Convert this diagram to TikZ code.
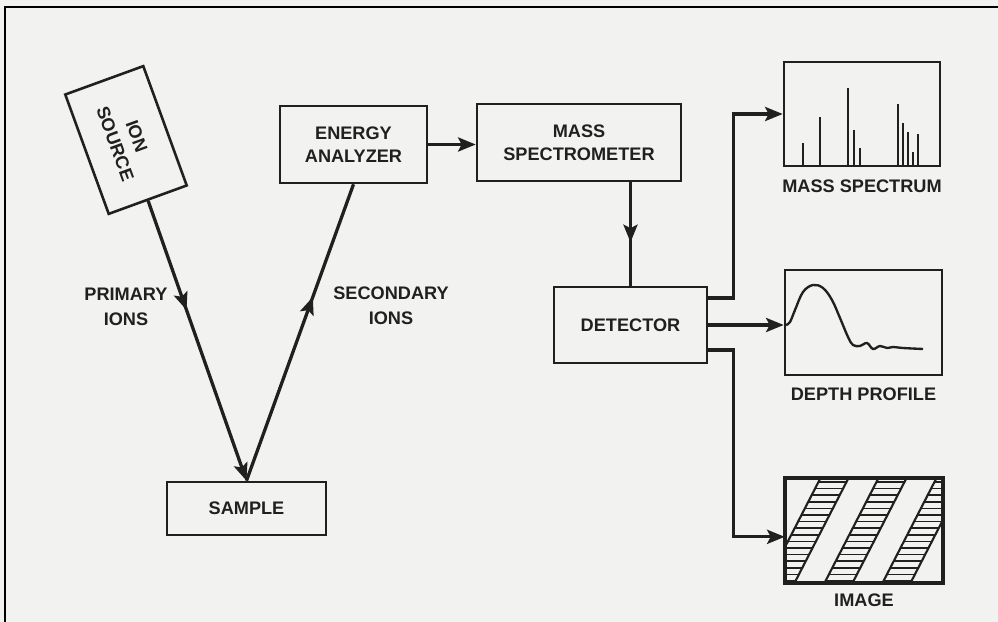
\documentclass[tikz,border=0pt]{standalone}
\usepackage{fontspec}
\setmainfont{Liberation Sans}
\usepackage{tikz}
\usetikzlibrary{arrows.meta, positioning, calc, decorations.markings}
\definecolor{ink1}{RGB}{32, 32, 32}
\definecolor{paper1}{RGB}{242, 242, 240}

\begin{document}
\begin{tikzpicture}[x=0.03cm, y=-0.03cm,
  box/.style={draw=ink1, line width=2.2pt, fill=paper1, text=ink1, align=center, inner sep=0pt,
    font=\bfseries\fontsize{15.5}{19.5}\selectfont},
  lbl/.style={text=ink1, align=center, inner sep=0pt, font=\bfseries\fontsize{15.5}{21}\selectfont},
  beam/.style={draw=ink1, line width=2.8pt},
  flow/.style={beam, -{Stealth[length=15pt, width=12pt, inset=3pt]}},
  midtip/.style={postaction={decorate}, decoration={markings,
    mark=at position #1 with {\arrow{Stealth[length=15pt, width=12pt, inset=3pt]}}}},
  peak/.style={draw=ink1, line width=1.8pt},
  hatchline/.style={draw=ink1, line width=1.3pt}
]
  \useasboundingbox (0,0) rectangle (998,622);
  \fill[paper1] (0,0) rectangle (998,622);
  \draw[black, line width=1.2pt] (5,622) -- (5,7) -- (998,7);

  \node[box, rotate=-70, minimum width=3.81cm, minimum height=2.49cm] (ionsrc) at (126,140) {ION\\SOURCE};
  \node[box, minimum width=4.77cm, minimum height=1.59cm] (sample) at (246.5,508.5) {SAMPLE};
  \node[box, minimum width=4.41cm, minimum height=2.31cm] (energy) at (353.5,144.5) {ENERGY\\ANALYZER};
  \node[box, minimum width=6.12cm, minimum height=2.31cm] (massspec) at (579,142.5) {MASS\\SPECTROMETER};
  \node[box, minimum width=4.59cm, minimum height=2.28cm] (detector) at (630.5,325) {DETECTOR};

  \node[box, minimum width=4.68cm, minimum height=3.12cm] (msbox) at (862,114) {};
  \node[box, minimum width=4.71cm, minimum height=3.15cm] (depthbox) at (863.5,322.5) {};
  \node[box, minimum width=4.68cm, minimum height=3.09cm] (imgbox) at (864,530.5) {};

  \node[lbl, below=0.36cm of msbox] (mslabel) {MASS SPECTRUM};
  \node[lbl, below=0.35cm of depthbox] (depthlabel) {DEPTH PROFILE};
  \node[lbl, below=0.3cm of imgbox] (imglabel) {IMAGE};
  \node[lbl] (primlabel) at (126,307) {PRIMARY\\IONS};
  \node[lbl] (seclabel) at (391,306) {SECONDARY\\IONS};

  \draw[flow, midtip=0.39] (ionsrc.east) -- (sample.north);
  \draw[beam, midtip=0.62] (sample.north) -- (energy.south);
  \draw[flow] (energy.east) -- (energy.east -| massspec.west);
  \draw[beam, midtip=0.58] (massspec.south -| detector.north) -- (detector.north);
  \draw[flow] ([yshift=0.81cm]detector.east) -- ++(25,0) |- (msbox.west);
  \draw[flow] (detector.east) -- (detector.east -| depthbox.west);
  \draw[flow] ([yshift=-0.75cm]detector.east) -- ++(25,0) |- ([yshift=-0.19cm]imgbox.west);

  \foreach \px/\py in {803/143, 820/117, 848/88, 854/130, 860/148, 898/104, 903/123, 908/132, 913/152, 918/134}
    \draw[peak] (\px,165) -- (\px,\py);

  \draw[ink1, line width=2pt] plot[smooth, tension=0.6] coordinates {(786,325) (790,322) (795,310) (803,292)
    (813,285) (823,288) (832,300) (840,318) (848,337) (853,345) (860,346) (867,343) (873,349) (880,346)
    (887,348) (893,347) (903,348) (923,349)};

  \begin{scope}
    \clip (imgbox.south west) rectangle (imgbox.north east);
    \foreach \b in {767,825,883}{
      \begin{scope}
        \clip (\b,582) -- ++(28,0) -- ++(53,-103) -- ++(-28,0) -- cycle;
        \foreach \h in {0,...,15}
          \draw[hatchline] (\b-10,482+6.6*\h) -- ++(120,0);
      \end{scope}
      \draw[peak] (\b,582) -- ++(53,-103) (\b+28,582) -- ++(53,-103);
    }
  \end{scope}
  \draw[ink1, line width=2.2pt] (imgbox.south west) rectangle (imgbox.north east);
\end{tikzpicture}
\end{document}
